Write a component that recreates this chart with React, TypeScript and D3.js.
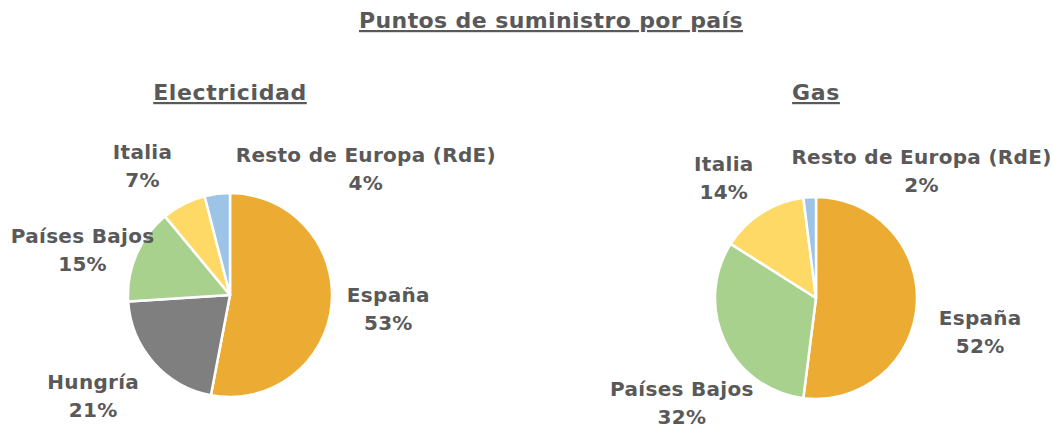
import React, { useEffect, useRef } from 'react';
import * as d3 from 'd3';

// data
const elecCountries = ['España', 'Hungría', 'Países Bajos', 'Italia', 'Resto de Europa (RdE)'];
const elecValues = [53, 21, 15, 7, 4];
const gasCountries = ['España', 'Países Bajos', 'Italia', 'Resto de Europa (RdE)'];
const gasValues = [52, 32, 14, 2];

const colorByCountry: Record<string, string> = {
    'España': '#ECAB33',
    'Hungría': '#7F7F7F',
    'Países Bajos': '#A9D18E',
    'Italia': '#FFD966',
    'Resto de Europa (RdE)': '#9DC3E6'
};

// label nudges from the outer label arc (px), Excel placed them by hand
const elecLabelShift = [[6, 0], [-22, 0], [-7, 16], [-18, 7], [155, 26]];
const gasLabelShift = [[13, 24], [3, 40], [-11, 8], [115, 24]];

const TEXT = '#595959';
const FONT = '"DejaVu Sans", Verdana, sans-serif';

const App = () => {
    const ref = useRef<SVGSVGElement | null>(null);

    useEffect(() => {
        const svg = d3.select(ref.current);
        svg.selectAll('*').remove();

        svg.append('text')
            .attr('x', 551).attr('y', 28)
            .attr('text-anchor', 'middle')
            .style('font-family', FONT).style('font-weight', 'bold')
            .style('font-size', '22px').style('fill', TEXT)
            .style('letter-spacing', '0.4px')
            .style('text-decoration', 'underline')
            .text('Puntos de suministro por país');

        function drawPie(title: string, names: string[], values: number[], shifts: number[][], cx: number, cy: number, r: number) {
            const g = svg.append('g').attr('transform', 'translate(' + cx + ',' + cy + ')');

            svg.append('text')
                .attr('x', cx).attr('y', 100)
                .attr('text-anchor', 'middle')
                .style('font-family', FONT).style('font-weight', 'bold')
                .style('font-size', '22px').style('fill', TEXT)
                .style('letter-spacing', '0.6px')
                .style('text-decoration', 'underline')
                .text(title);

            const data = names.map((n, i) => ({ name: n, value: values[i] }));
            const pie = d3.pie<any>().sort(null).value(d => d.value);
            const arcs = pie(data);
            const arc = d3.arc<any>().innerRadius(0).outerRadius(r);
            const labelArc = d3.arc<any>().innerRadius(r * 1.5).outerRadius(r * 1.5);

            g.selectAll('path.slice')
                .data(arcs)
                .enter().append('path')
                .attr('class', 'slice')
                .attr('d', arc)
                .attr('fill', d => colorByCountry[d.data.name])
                .attr('stroke', '#fff')
                .attr('stroke-width', 2.5)
                .attr('stroke-linejoin', 'round');

            const labels = g.selectAll('g.lbl')
                .data(arcs)
                .enter().append('g')
                .attr('class', 'lbl')
                .attr('transform', (d, i) => {
                    const c = labelArc.centroid(d);
                    return 'translate(' + (c[0] + shifts[i][0]) + ',' + (c[1] + shifts[i][1]) + ')';
                });

            labels.append('text')
                .attr('text-anchor', 'middle')
                .attr('y', -7)
                .style('font-family', FONT).style('font-weight', 'bold')
                .style('font-size', '20px').style('fill', TEXT)
                .style('letter-spacing', '0.3px')
                .text(d => d.data.name);
            labels.append('text')
                .attr('text-anchor', 'middle')
                .attr('y', 21)
                .style('font-family', FONT).style('font-weight', 'bold')
                .style('font-size', '20px').style('fill', TEXT)
                .style('letter-spacing', '0.3px')
                .text(d => d.data.value + '%');
        }

        drawPie('Electricidad', elecCountries, elecValues, elecLabelShift, 230, 295, 102);
        drawPie('Gas', gasCountries, gasValues, gasLabelShift, 816, 298, 101);
    }, []);

    return (
        <svg ref={ref} width={1052} height={430}
            style={{ position: 'absolute', left: 0, top: 0, background: '#fff' }} />
    );
};

export default App;
